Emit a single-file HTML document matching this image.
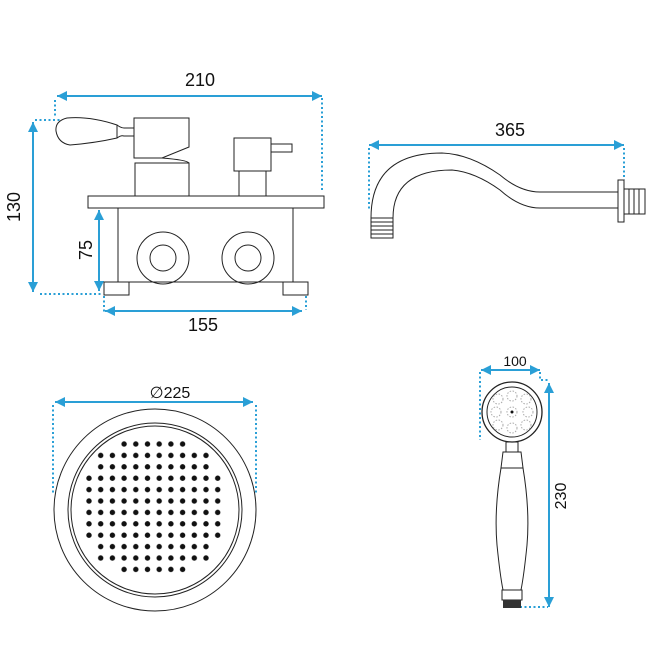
<!DOCTYPE html>
<html><head><style>html,body{margin:0;padding:0;background:#fff}svg{display:block}</style></head>
<body>
<svg width="665" height="665" viewBox="0 0 665 665" xmlns="http://www.w3.org/2000/svg" font-family="Liberation Sans, sans-serif">
<defs>
<marker id="a" viewBox="0 0 10 10" refX="10" refY="5" markerWidth="5" markerHeight="5" orient="auto-start-reverse"><path d="M0,0L10,5L0,10z" fill="#2a9fd6"/></marker>
<pattern id="p" patternUnits="userSpaceOnUse" x="83.15" y="438.3" width="11.7" height="11.4"><circle cx="5.85" cy="5.7" r="2.7" fill="#111"/></pattern>
</defs>
<g stroke="#2a9fd6" stroke-width="2" marker-start="url(#a)" marker-end="url(#a)">
<line x1="57" y1="96" x2="322" y2="96"/>
<line x1="33" y1="122" x2="33" y2="292"/>
<line x1="99" y1="210" x2="99" y2="291"/>
<line x1="105" y1="311" x2="302" y2="311"/>
<line x1="369" y1="145" x2="624" y2="145"/>
<line x1="55" y1="402" x2="253" y2="402"/>
<line x1="481" y1="370" x2="540" y2="370"/>
<line x1="549" y1="383" x2="549" y2="607"/>
</g>
<g stroke="#2a9fd6" stroke-width="2" stroke-dasharray="2,2.5" fill="none">
<path d="M55 100V118M35 120H60"/>
<path d="M322 98V190"/>
<path d="M40 294H103"/>
<path d="M104 296V312M306 296V310"/>
<path d="M369 148V210M624 148V180"/>
<path d="M53 405V495M256 405V495"/>
<path d="M480 372V440M540 372V380H548M520 607H548"/>
</g>
<g font-size="18" fill="#111" text-anchor="middle">
<text x="200" y="86">210</text>
<text x="203" y="331">155</text>
<text x="510" y="136">365</text>
<text transform="translate(20,207) rotate(-90)">130</text>
<text transform="translate(92,250) rotate(-90)">75</text>
<text x="170" y="398" font-size="16">∅225</text>
<text x="515" y="366" font-size="14">100</text>
<text transform="translate(566,496) rotate(-90)" font-size="16">230</text>
</g>
<g stroke="#222" stroke-width="1" fill="none">
<rect x="88" y="196" width="236" height="12"/>
<rect x="118" y="208" width="175" height="74"/>
<rect x="104" y="282" width="25" height="13"/>
<rect x="283" y="282" width="25" height="13"/>
<circle cx="163" cy="258" r="26"/><circle cx="163" cy="258" r="13"/>
<circle cx="248" cy="258" r="26"/><circle cx="248" cy="258" r="13"/>
<path d="M134 118H189V147L162 158H134Z"/>
<path d="M135 163H189V196H135Z"/>
<path d="M162 158Q187 160 189 163"/>
<path d="M117 125Q90 116 67 118Q55 121 56 131Q58 143 70 145Q95 143 117 138Z"/>
<path d="M117 125Q121 128 124 128H134M117 138Q121 135 124 136H134"/>
<rect x="234" y="138" width="37" height="33"/>
<rect x="271" y="144" width="21" height="8"/>
<path d="M239 171V196M266 171V196"/>
<path d="M371 218Q371 153 442 153Q470 154 500 175Q520 192 540 192H618"/>
<path d="M393 218Q393 170 452 170Q475 172 500 190Q520 208 540 208H618"/>
<rect x="371" y="218" width="22" height="20"/>
<path d="M371 222H393M371 226H393M371 230H393M371 234H393"/>
<rect x="618" y="180" width="6" height="42"/>
<rect x="624" y="189" width="21" height="25"/>
<path d="M629 189V214M634 189V214M639 189V214"/>
<circle cx="155" cy="510" r="101"/>
<circle cx="155" cy="510" r="87"/>
<circle cx="155" cy="510" r="84"/>
<circle cx="512" cy="412" r="30" stroke-width="1.3"/>
<circle cx="512" cy="412" r="25"/>
<rect x="506" y="442" width="12" height="10"/>
<path d="M503 452H521L523 468H501Z"/>
<path d="M501 468Q494 510 497 545Q500 575 503 590H521Q524 575 527 545Q530 510 523 468"/>
<rect x="502" y="590" width="20" height="10"/>
</g>
<rect x="503" y="600" width="18" height="8" fill="#333"/>
<circle cx="512" cy="412" r="1.5" fill="#111"/>
<g fill="none" stroke="#aaa" stroke-width="1" stroke-dasharray="1.5,1.5">
<circle cx="512" cy="412" r="5"/>
<circle cx="498" cy="399" r="5"/><circle cx="512" cy="396" r="5"/><circle cx="526" cy="399" r="5"/>
<circle cx="496" cy="412" r="5"/><circle cx="528" cy="412" r="5"/>
<circle cx="498" cy="425" r="5"/><circle cx="512" cy="428" r="5"/><circle cx="526" cy="425" r="5"/>
</g>
<g fill="url(#p)">
<rect x="118.25" y="438.3" width="70.2" height="11.4"/>
<rect x="94.85" y="449.7" width="117" height="22.8"/>
<rect x="83.15" y="472.5" width="140.4" height="68.4"/>
<rect x="94.85" y="540.9" width="117" height="22.8"/>
<rect x="118.25" y="563.7" width="70.2" height="11.4"/>
</g>
</svg>
</body></html>
